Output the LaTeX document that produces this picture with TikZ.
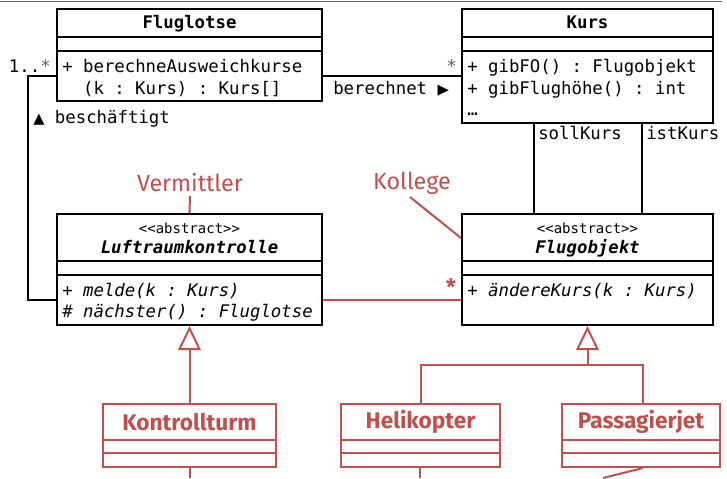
\documentclass[tikz,border=0pt]{standalone}
\usepackage{fontspec}
\setmonofont{DejaVu Sans Mono}
\newfontfamily\symfont{DejaVu Sans}
\newfontfamily\redfont{Fira Sans}
\usetikzlibrary{fit,arrows.meta}
\definecolor{umlred}{HTML}{C0504D}
\definecolor{stargray}{HTML}{6A5A8A}
\begin{document}
\begin{tikzpicture}[x=0.75pt,y=-0.75pt,
  cls/.style={draw=black, line width=1.6pt, inner sep=0pt, fill=white},
  rcls/.style={draw=umlred, line width=1.5pt, inner sep=0pt, fill=white},
  sep/.style={line width=1.6pt},
  rsep/.style={line width=1.5pt, draw=umlred},
  conn/.style={line width=1.5pt},
  rconn/.style={line width=1.5pt, draw=umlred},
  mono/.style={font=\ttfamily\fontsize{13}{15}\selectfont, inner sep=0pt},
  monob/.style={font=\ttfamily\bfseries\fontsize{13}{15}\selectfont, inner sep=0pt},
  monobi/.style={font=\ttfamily\bfseries\itshape\fontsize{13}{15}\selectfont, inner sep=0pt},
  stereo/.style={font=\ttfamily\fontsize{10.5}{12}\selectfont, inner sep=0pt},
  redlabel/.style={font=\redfont\fontsize{17.5}{19}\selectfont, text=umlred, inner sep=0pt},
  redname/.style={font=\redfont\bfseries\fontsize{17}{19}\selectfont, text=umlred, inner sep=0pt},
  gen/.style={-{Triangle[open,length=18pt,width=17pt,fill=white]}},
]
\useasboundingbox (0,0) rectangle (727,478);
\draw[line width=0.8pt, black!60] (0,1.5) -- (722,1.5);

% ---------- Fluglotse ----------
\node[cls, fit={(57,9) (322,101)}] (flug) {};
\draw[sep] (57,37) -- (322,37);
\draw[sep] (57,51) -- (322,51);
\node[monob, anchor=base] (flugT) at (189.5,29) {Fluglotse};
\node[mono, anchor=base west] (flugM1) at (62,72) {+ berechneAusweichkurse};
\node[mono, anchor=base west] (flugM2) at (82.8,94) {(k : Kurs) : Kurs[]};

% ---------- Kurs ----------
\node[cls, fit={(462,9) (713,123)}] (kurs) {};
\draw[sep] (462,37) -- (713,37);
\draw[sep] (462,51) -- (713,51);
\node[monob, anchor=base] (kursT) at (587.5,29) {Kurs};
\node[mono, anchor=base west] (kursM1) at (467,72) {+ gibFO() : Flugobjekt};
\node[mono, anchor=base west] (kursM2) at (467,94) {+ gibFlughöhe() : int};
\node[mono, anchor=base west] (kursM3) at (467,115) {…};

% ---------- Luftraumkontrolle ----------
\node[cls, fit={(57,214) (322,325)}] (luft) {};
\draw[sep] (57,261) -- (322,261);
\draw[sep] (57,275) -- (322,275);
\node[stereo, anchor=base] (luftS) at (189.5,233) {<<abstract>>};
\node[monobi, anchor=base] (luftT) at (189.5,253) {Luftraumkontrolle};
\node[mono, anchor=base west] (luftM1) at (62,296) {+ \textit{melde(k : Kurs)}};
\node[mono, anchor=base west] (luftM2) at (62,317) {\# \textit{nächster() : Fluglotse}};

% ---------- Flugobjekt ----------
\node[cls, fit={(462,214) (713,325)}] (flugo) {};
\draw[sep] (462,261) -- (713,261);
\draw[sep] (462,275) -- (713,275);
\node[stereo, anchor=base] (flugoS) at (587.5,233) {<<abstract>>};
\node[monobi, anchor=base] (flugoT) at (587.5,253) {Flugobjekt};
\node[mono, anchor=base west] (flugoM1) at (467,296) {+ \textit{ändereKurs(k : Kurs)}};

% ---------- red subclasses ----------
\node[rcls, fit={(103,404) (276,467)}] (kt) {};
\draw[rsep] (103,440) -- (276,440);
\draw[rsep] (103,453) -- (276,453);
\node[redname] (ktT) at (189.5,422) {Kontrollturm};

\node[rcls, fit={(341,404) (500,467)}] (heli) {};
\draw[rsep] (341,440) -- (500,440);
\draw[rsep] (341,453) -- (500,453);
\node[redname] (heliT) at (420.5,422) {Helikopter};

\node[rcls, fit={(562,404) (720,467)}] (pass) {};
\draw[rsep] (562,440) -- (720,440);
\draw[rsep] (562,453) -- (720,453);
\node[redname] (passT) at (641,422) {Passagierjet};

% ---------- associations ----------
\draw[conn] (flug.west |- 0,76) -- (28,76) -- (28,300) -- (luft.west |- 0,300);
\node[mono, anchor=base east] (mult1) at (51,72) {1..{\color{stargray}*}};
\node[mono, anchor=base west] (besch) at (33,123) {{\symfont\fontsize{11}{12}\selectfont ▲} beschäftigt};

\draw[conn] (flug.east |- 0,76) -- (kurs.west |- 0,76);
\node[mono, anchor=base east, text=stargray] (mult2) at (457,72) {*};
\node[mono, anchor=base west] (ber) at (333,94) {berechnet {\symfont\fontsize{11}{12}\selectfont ▶}};

\draw[conn] (kurs.south -| 534,0) -- (flugo.north -| 534,0);
\draw[conn] (kurs.south -| 642,0) -- (flugo.north -| 642,0);
\node[mono, anchor=base west] (soll) at (538,139) {sollKurs};
\node[mono, anchor=base west] (ist) at (646,139) {istKurs};

\draw[rconn] (luft.east |- 0,300) -- (flugo.west |- 0,300);
\node[font=\redfont\bfseries\fontsize{17}{19}\selectfont, text=umlred, inner sep=0pt, anchor=base] (mult3) at (451,295) {*};

% ---------- pattern role labels ----------
\node[redlabel] (verm) at (190,183) {Vermittler};
\draw[rconn] (verm.south |- 0,196) -- (luft.north);
\node[redlabel] (koll) at (412,183) {Kollege};
\draw[rconn] (410,197) -- (flugo.west |- 0,238);

% ---------- generalizations ----------
\draw[rconn, gen] (kt.north) -- (luft.south);
\coordinate (junc) at (587.5,365);
\draw[rconn, gen] (heli.north) |- (junc) -- (flugo.south);
\draw[rconn] (pass.north -| 643,0) |- (junc);

% ---------- lines leaving the picture ----------
\draw[rconn] (kt.south) -- (189.5,478);
\draw[rconn] (heli.south -| 420,0) -- (420,478);
\draw[rconn] (pass.south -| 643,0) -- (603,478);
\end{tikzpicture}
\end{document}
